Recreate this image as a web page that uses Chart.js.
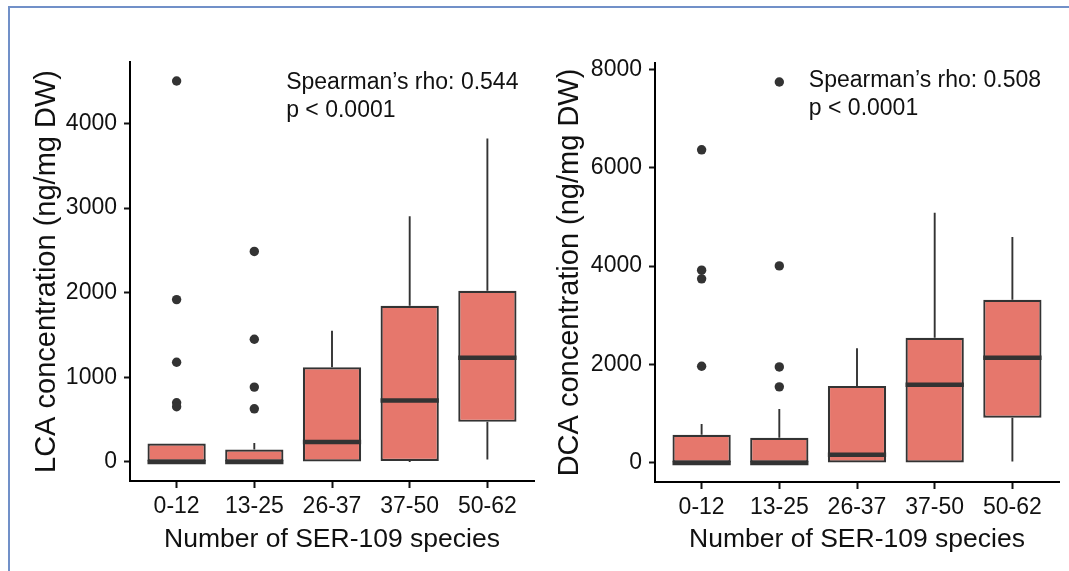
<!DOCTYPE html>
<html>
<head>
<meta charset="utf-8">
<script src="https://cdn.jsdelivr.net/npm/chart.js@4"></script>
<style>
  body { margin: 0; background: #fff; }
  #wrap { position: relative; width: 1069px; height: 571px; overflow: hidden; }
  #frame { position: absolute; left: 8px; top: 6px; width: 1100px; height: 600px;
           border-top: 2px solid #7190c8; border-left: 2px solid #7190c8; }
  canvas { position: absolute; top: 0; }
</style>
</head>
<body>
<div id="wrap">
  <div id="frame"></div>
  <canvas id="lcaChart" width="540" height="571" style="left:0"></canvas>
  <canvas id="dcaChart" width="529" height="571" style="left:540px"></canvas>
</div>
<script>
const groups = ["0-12", "13-25", "26-37", "37-50", "50-62"];

// LCA (ng/mg DW) box stats per group
const lcaLow = [0, 0, 0, 0, 28];
const lcaQ1 = [0, 0, 0, 12, 474];
const lcaMedian = [0, 0, 237, 727, 1232];
const lcaQ3 = [218, 147, 1118, 1845, 2024];
const lcaHigh = [218, 225, 1552, 2903, 3823];
const lcaOutliers = [[4502, 1919, 1178, 699, 652], [2488, 1450, 885, 628], [], [], []];
const lcaTicks = [0, 1000, 2000, 3000, 4000];
const lcaNote = ["Spearman\u2019s rho: 0.544", "p < 0.0001"];

// DCA (ng/mg DW) box stats per group
const dcaLow = [0, 0, 0, 0, 32];
const dcaQ1 = [0, 0, 0, 0, 918];
const dcaMedian = [0, 0, 168, 1587, 2140];
const dcaQ3 = [573, 513, 1566, 2545, 3315];
const dcaHigh = [790, 1094, 2330, 5086, 4592];
const dcaOutliers = [[6363, 3917, 3741, 1966], [7740, 4004, 1951, 1546], [], [], []];
const dcaTicks = [0, 2000, 4000, 6000, 8000];
const dcaNote = ["Spearman\u2019s rho: 0.508", "p < 0.0001"];

const family = '"Liberation Sans", Arial, Helvetica, sans-serif';
const ink = '#333333';

// text annotation in data coordinates
const notePlugin = {
  id: 'noteText',
  afterDatasetsDraw(chart, args, o) {
    const ctx = chart.ctx;
    const px = chart.scales.x.getPixelForValue(o.x);
    const py = chart.scales.y.getPixelForValue(o.y);
    ctx.save();
    ctx.font = '23px ' + family;
    ctx.fillStyle = '#111';
    ctx.textBaseline = 'alphabetic';
    o.lines.forEach((t, k) => ctx.fillText(t, px, py + k * o.gap));
    ctx.restore();
  }
};

function boxChart(id, s, L) {
  const all = s.low.concat(s.high, s.out.flat());
  const lo = Math.min(...all), hi = Math.max(...all);
  const pad = (hi - lo) * 0.05;

  const whisk = [];
  groups.forEach((g, i) => {
    whisk.push({x: i, y: s.q3[i]}, {x: i, y: s.high[i]}, {x: i, y: null});
    whisk.push({x: i, y: s.low[i]}, {x: i, y: s.q1[i]}, {x: i, y: null});
  });
  const outPts = [];
  s.out.forEach((arr, i) => arr.forEach(v => outPts.push({x: i, y: v})));
  const halfBox = c => c.chart.scales.x.getPixelForValue(0.375) - c.chart.scales.x.getPixelForValue(0);

  return new Chart(id, {
    type: 'bar',
    data: {
      datasets: [
        { type: 'scatter', data: outPts, pointRadius: 4.7, pointBackgroundColor: ink,
          pointBorderWidth: 0, order: 0 },
        { type: 'scatter', data: s.median.map((v, i) => ({x: i, y: v})), pointStyle: 'line',
          pointRadius: halfBox, pointBorderColor: ink, pointBorderWidth: 4.5, order: 1 },
        { type: 'line', data: whisk, borderColor: ink, borderWidth: 1.9, pointRadius: 0,
          spanGaps: false, order: 2 },
        { type: 'bar', data: groups.map((g, i) => ({x: i, y: [s.q1[i], s.q3[i]]})),
          backgroundColor: '#e6776c', borderColor: ink, borderWidth: 2.2, borderSkipped: false,
          barPercentage: 0.75, categoryPercentage: 1, order: 3 }
      ]
    },
    options: {
      responsive: false,
      animation: false,
      events: [],
      layout: { padding: { left: L.padLeft, right: L.padRight, top: L.padTop, bottom: 15 } },
      plugins: {
        legend: { display: false },
        tooltip: { enabled: false },
        noteText: { lines: s.note, x: L.noteX, y: L.noteY, gap: 28 }
      },
      scales: {
        x: {
          type: 'linear', min: -0.6, max: 4.6, offset: false,
          afterBuildTicks: sc => { sc.ticks = groups.map((g, i) => ({value: i})); },
          afterFit: sc => { sc.height = L.xHeight; },
          ticks: { callback: v => groups[v], font: {family, size: 23}, color: '#111',
                   padding: 5, maxRotation: 0, autoSkip: false },
          grid: { display: true, offset: false, drawOnChartArea: false, drawTicks: true,
                  tickLength: 7, tickWidth: 2, tickColor: '#111' },
          border: { display: true, color: '#000', width: 2 },
          title: { display: true, text: 'Number of SER-109 species',
                   font: {family, size: 26.5}, color: '#111', padding: 0 }
        },
        y: {
          min: lo - pad, max: hi + pad,
          afterBuildTicks: sc => { sc.ticks = s.ticks.map(v => ({value: v})); },
          afterFit: sc => { sc.width = L.yWidth; },
          ticks: { callback: v => String(v), font: {family, size: 23}, color: '#111', padding: 7 },
          grid: { display: true, drawOnChartArea: false, drawTicks: true, tickLength: 6,
                  tickWidth: 2, tickColor: '#111' },
          border: { display: true, color: '#000', width: 2 },
          title: { display: true, text: s.title, font: {family, size: 29}, color: '#111', padding: 0 }
        }
      }
    },
    plugins: [notePlugin]
  });
}

boxChart('lcaChart', {
  low: lcaLow, q1: lcaQ1, median: lcaMedian, q3: lcaQ3, high: lcaHigh, out: lcaOutliers,
  ticks: lcaTicks, note: lcaNote, title: 'LCA concentration (ng/mg DW)'
}, { padLeft: 30, yWidth: 100, padRight: 6, padTop: 62, xHeight: 75, noteX: 1.41, noteY: 4404 });

boxChart('dcaChart', {
  low: dcaLow, q1: dcaQ1, median: dcaMedian, q3: dcaQ3, high: dcaHigh, out: dcaOutliers,
  ticks: dcaTicks, note: dcaNote, title: 'DCA concentration (ng/mg DW)'
}, { padLeft: 13, yWidth: 102, padRight: 10, padTop: 63, xHeight: 74, noteX: 1.38, noteY: 7631 });
</script>
</body>
</html>
